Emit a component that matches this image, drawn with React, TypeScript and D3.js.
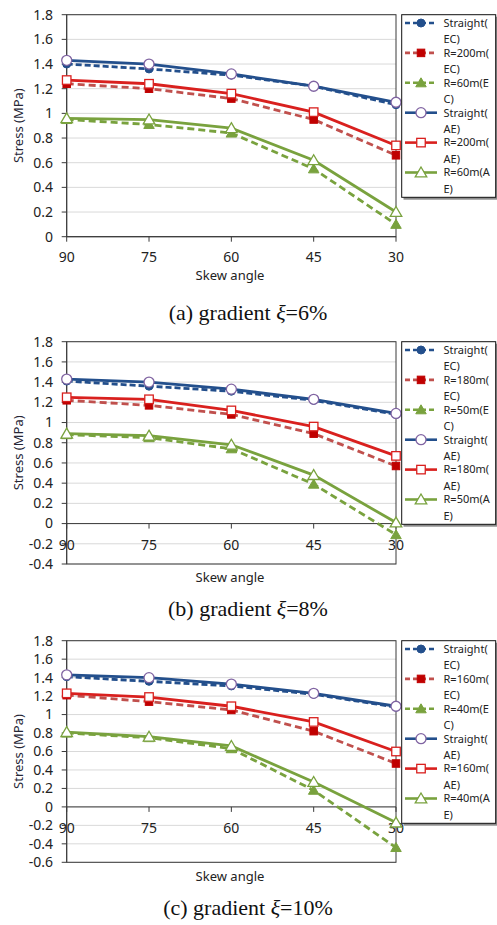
import React from "react";
import * as d3 from "d3";

const angles = ["90", "75", "60", "45", "30"];

// (a) gradient 6%
const straightEC_a = [1.4, 1.36, 1.31, 1.22, 1.07];
const r200EC = [1.24, 1.2, 1.12, 0.95, 0.66];
const r60EC = [0.95, 0.91, 0.84, 0.55, 0.1];
const straightAE_a = [1.43, 1.4, 1.32, 1.22, 1.09];
const r200AE = [1.27, 1.24, 1.16, 1.01, 0.74];
const r60AE = [0.96, 0.95, 0.88, 0.62, 0.2];

// (b) gradient 8%
const straightEC_b = [1.41, 1.36, 1.31, 1.22, 1.08];
const r180EC = [1.22, 1.17, 1.08, 0.89, 0.57];
const r50EC = [0.88, 0.85, 0.74, 0.39, -0.11];
const straightAE_b = [1.43, 1.4, 1.33, 1.23, 1.09];
const r180AE = [1.25, 1.23, 1.12, 0.96, 0.67];
const r50AE = [0.89, 0.87, 0.78, 0.48, 0.01];

// (c) gradient 10%
const straightEC_c = [1.41, 1.36, 1.31, 1.22, 1.08];
const r160EC = [1.21, 1.14, 1.05, 0.82, 0.47];
const r40EC = [0.8, 0.75, 0.63, 0.18, -0.44];
const straightAE_c = [1.43, 1.4, 1.33, 1.23, 1.09];
const r160AE = [1.23, 1.19, 1.09, 0.92, 0.6];
const r40AE = [0.81, 0.76, 0.66, 0.27, -0.17];

const labels_a = [["Straight(", "EC)"], ["R=200m(", "EC)"], ["R=60m(E", "C)"], ["Straight(", "AE)"], ["R=200m(", "AE)"], ["R=60m(A", "E)"]];
const labels_b = [["Straight(", "EC)"], ["R=180m(", "EC)"], ["R=50m(E", "C)"], ["Straight(", "AE)"], ["R=180m(", "AE)"], ["R=50m(A", "E)"]];
const labels_c = [["Straight(", "EC)"], ["R=160m(", "EC)"], ["R=40m(E", "C)"], ["Straight(", "AE)"], ["R=160m(", "AE)"], ["R=40m(A", "E)"]];

const BLUE = "#234f8c";
const RED_D = "#c0504d";
const RED = "#d9201e";
const GREEN = "#79a23e";

// series styling in draw order: EC (dashed, filled markers) then AE (solid, open markers)
const styles = [
  { color: BLUE, dash: "6,3", marker: "circle", fill: BLUE, mstroke: BLUE },
  { color: RED_D, dash: "7,4", marker: "square", fill: "#c00000", mstroke: "#c00000" },
  { color: GREEN, dash: "7,4", marker: "triangle", fill: GREEN, mstroke: GREEN },
  { color: BLUE, dash: null, marker: "circle", fill: "#fff", mstroke: "#8064a2" },
  { color: RED, dash: null, marker: "square", fill: "#fff", mstroke: RED },
  { color: GREEN, dash: null, marker: "triangle", fill: "#fff", mstroke: GREEN },
];

const panels = [
  {
    top: 14.7, bottom: 236.7, yMin: 0, labelY: 257, titleY: 275.5, captionY: 320,
    tag: "(a) gradient ", pct: "=6%",
    series: [straightEC_a, r200EC, r60EC, straightAE_a, r200AE, r60AE], labels: labels_a,
  },
  {
    top: 341.7, bottom: 564, yMin: -0.4, labelY: 545, titleY: 577.5, captionY: 616,
    tag: "(b) gradient ", pct: "=8%",
    series: [straightEC_b, r180EC, r50EC, straightAE_b, r180AE, r50AE], labels: labels_b,
  },
  {
    top: 640.7, bottom: 862.3, yMin: -0.6, labelY: 828, titleY: 876.5, captionY: 915,
    tag: "(c) gradient ", pct: "=10%",
    series: [straightEC_c, r160EC, r40EC, straightAE_c, r160AE, r40AE], labels: labels_c,
  },
];

const FONT = "'Noto Sans', 'Open Sans', sans-serif";
const LEFT = 66.7;
const RIGHT = 396;

function Marker({ kind, x, y, fill, stroke, open }) {
  const sw = open ? 1.3 : 1;
  if (kind === "circle") {
    return <circle cx={x} cy={y} r={open ? 5 : 4} fill={fill} stroke={stroke} strokeWidth={sw} />;
  }
  if (kind === "square") {
    const s = open ? 8.5 : 7.5;
    return <rect x={x - s / 2} y={y - s / 2} width={s} height={s} fill={fill} stroke={stroke} strokeWidth={sw} />;
  }
  const s = open ? 5.5 : 5;
  const p = `M${x},${y - s}L${x + s * 1.05},${y + s * 0.8}L${x - s * 1.05},${y + s * 0.8}Z`;
  return <path d={p} fill={fill} stroke={stroke} strokeWidth={sw} />;
}

function Panel({ cfg }) {
  const x = d3.scalePoint().domain(angles).range([LEFT, RIGHT]);
  const y = d3.scaleLinear().domain([cfg.yMin, 1.8]).range([cfg.bottom, cfg.top]);
  const ticks = d3.range(Math.round(cfg.yMin * 5), 10).map((k) => +(k * 0.2).toFixed(1));
  const line = d3
    .line<number>()
    .x((_, i) => x(angles[i]))
    .y((d) => y(d));
  const y0 = y(0);
  const legTop = cfg.top;
  return (
    <g>
      {ticks.map((t) => (
        <line key={"g" + t} x1={LEFT} x2={RIGHT} y1={y(t)} y2={y(t)} stroke="#d9d9d9" strokeWidth={1} />
      ))}
      <rect x={LEFT} y={cfg.top} width={RIGHT - LEFT} height={cfg.bottom - cfg.top} fill="none" stroke="#3a3a3a" strokeWidth={1} />
      {/* y axis */}
      <line x1={LEFT} x2={LEFT} y1={cfg.top} y2={cfg.bottom} stroke="#3a3a3a" />
      {ticks.map((t) => (
        <g key={"t" + t}>
          <line x1={LEFT - 5} x2={LEFT} y1={y(t)} y2={y(t)} stroke="#3a3a3a" />
          <text x={53} y={y(t)} dy="0.35em" textAnchor="end" fontSize={14} fontFamily={FONT} fill="#222">
            {String(t)}
          </text>
        </g>
      ))}
      {/* x axis at zero */}
      <line x1={LEFT} x2={RIGHT} y1={y0} y2={y0} stroke="#3a3a3a" />
      {angles.map((a) => (
        <g key={"x" + a}>
          <line x1={x(a)} x2={x(a)} y1={y0} y2={y0 + 5} stroke="#3a3a3a" />
          <text x={x(a)} y={cfg.labelY} dy="0.35em" textAnchor="middle" fontSize={14} fontFamily={FONT} fill="#222">
            {a}
          </text>
        </g>
      ))}
      <text x={230} y={cfg.titleY} dy="0.35em" textAnchor="middle" fontSize={13} fontFamily={FONT} fill="#222">
        Skew angle
      </text>
      <text
        transform={`translate(18,${(cfg.top + cfg.bottom) / 2}) rotate(-90)`}
        dy="0.35em"
        textAnchor="middle"
        fontSize={13}
        fontFamily={FONT}
        fill="#262636"
      >
        Stress (MPa)
      </text>
      {/* series */}
      {cfg.series.map((vals, si) => {
        const st = styles[si];
        return (
          <g key={"s" + si}>
            <path d={line(vals)} fill="none" stroke={st.color} strokeWidth={2.8} strokeDasharray={st.dash || undefined} />
            {vals.map((v, i) => (
              <Marker key={i} kind={st.marker} x={x(angles[i])} y={y(v)} fill={st.fill} stroke={st.mstroke} open={!st.dash} />
            ))}
          </g>
        );
      })}
      {/* legend */}
      <rect x={403.5} y={legTop + 2} width={94} height={183} fill="#8c8c8c" />
      <rect x={401.7} y={legTop} width={94} height={182.6} fill="#fff" stroke="#111" strokeWidth={1} />
      {cfg.labels.map((lab, i) => {
        const st = styles[i];
        const cy = legTop + 8.3 + i * 29.9;
        return (
          <g key={"l" + i}>
            <line x1={405} x2={437} y1={cy} y2={cy} stroke={st.color} strokeWidth={2.6} strokeDasharray={st.dash ? "5,3" : undefined} />
            <Marker kind={st.marker} x={421} y={cy} fill={st.fill} stroke={st.mstroke} open={!st.dash} />
            <text x={443.5} y={cy} dy="0.35em" fontSize={11} fontFamily={FONT} fill="#222">
              {lab[0]}
            </text>
            <text x={443.5} y={cy + 16.5} dy="0.35em" fontSize={11} fontFamily={FONT} fill="#222">
              {lab[1]}
            </text>
          </g>
        );
      })}
      <text x={248} y={cfg.captionY} textAnchor="middle" fontSize={22} fontFamily="'Liberation Serif', 'Times New Roman', serif" fill="#111">
        {cfg.tag}
        <tspan fontStyle="italic">ξ</tspan>
        {cfg.pct}
      </text>
    </g>
  );
}

export default function App() {
  return (
    <div style={{ position: "absolute", left: 0, top: 0 }}>
      <svg width={497} height={925} style={{ display: "block", background: "#fff" }}>
        <rect width={497} height={925} fill="#fff" />
        {panels.map((p, i) => (
          <Panel key={i} cfg={p} />
        ))}
      </svg>
    </div>
  );
}
